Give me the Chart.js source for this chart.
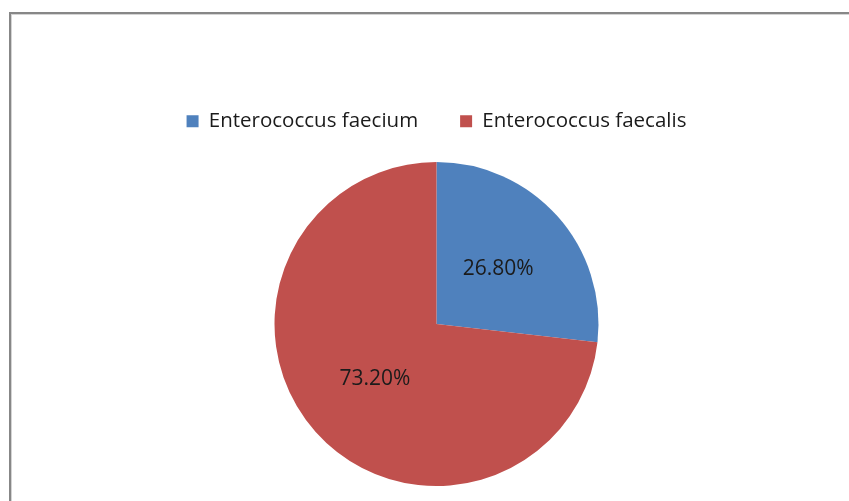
<!DOCTYPE html>
<html>
<head>
<meta charset="utf-8">
<script src="https://cdn.jsdelivr.net/npm/chart.js@4/dist/chart.umd.min.js"></script>
<style>
  html, body { margin: 0; padding: 0; background: #fff; overflow: hidden; }
  #frame {
    position: absolute; left: 9px; top: 12px; width: 860px; height: 520px;
    border-left: 2px solid #878787; border-top: 2px solid #878787;
    box-shadow: inset 1px 1px 0 #d4d4d4;
  }
  #wrap { position: absolute; left: 0; top: 0; width: 849px; height: 501px; }
</style>
</head>
<body>
<div id="frame"></div>
<div id="wrap"><canvas id="pie"></canvas></div>
<script>
const species = ['Enterococcus faecium', 'Enterococcus faecalis'];
const shares = [26.8, 73.2];
const sliceColors = ['#4F81BD', '#C0504D'];

// percent labels placed along each slice's middle angle
const sliceLabels = {
    id: 'sliceLabels',
    afterDatasetsDraw(chart) {
        const ctx = chart.ctx;
        const meta = chart.getDatasetMeta(0);
        ctx.save();
        ctx.font = '21px "Open Sans"';
        ctx.fillStyle = '#1b1b1b';
        ctx.textAlign = 'center';
        ctx.textBaseline = 'middle';
        meta.data.forEach((arc, i) => {
            const p = arc.getProps(['x', 'y', 'startAngle', 'endAngle', 'outerRadius'], true);
            const mid = (p.startAngle + p.endAngle) / 2;
            const d = p.outerRadius * 0.51;
            ctx.fillText(shares[i].toFixed(2) + '%', p.x + Math.cos(mid) * d, p.y + Math.sin(mid) * d);
        });
        ctx.restore();
    }
};

// fix legend block height so the pie starts where it should
const legendHeight = {
    id: 'legendHeight',
    beforeInit(chart) {
        const fit = chart.legend.fit;
        chart.legend.fit = function () {
            fit.bind(chart.legend)();
            this.height = 93;
        };
    }
};

new Chart(document.getElementById('pie'), {
    type: 'pie',
    data: {
        labels: species,
        datasets: [{
            data: shares,
            backgroundColor: sliceColors,
            borderWidth: 0
        }]
    },
    options: {
        responsive: true,
        maintainAspectRatio: false,
        animation: false,
        layout: { padding: { top: 69, bottom: 15, left: 24, right: 0 } },
        plugins: {
            legend: {
                position: 'top',
                labels: {
                    boxWidth: 12,
                    boxHeight: 12,
                    padding: 42,
                    color: '#1b1b1b',
                    font: { family: '"Open Sans"', size: 20.5 }
                }
            },
            tooltip: { enabled: false }
        }
    },
    plugins: [sliceLabels, legendHeight]
});
</script>
</body>
</html>
